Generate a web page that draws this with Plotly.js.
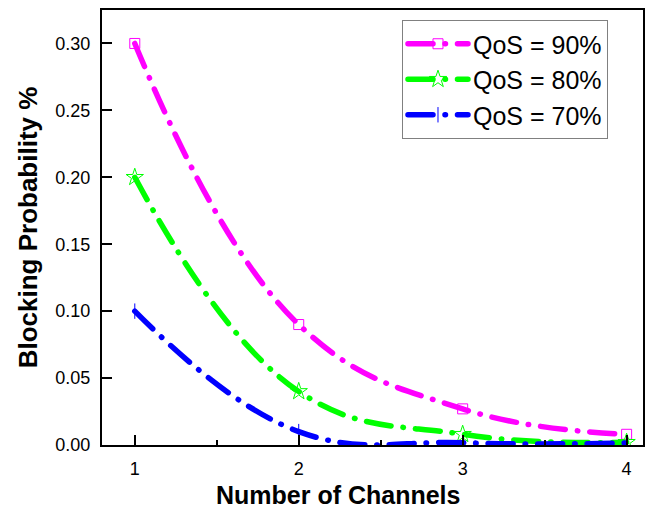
<!DOCTYPE html>
<html>
<head>
<meta charset="utf-8">
<script src="https://cdn.plot.ly/plotly-3.0.1.min.js"></script>
<style>html,body{margin:0;padding:0;background:#fff}#chart{width:649px;height:510px}</style>
</head>
<body>
<div id="chart"></div>
<script>
// Data
const channels = [1, 2, 3, 4];
const qos90 = [0.300, 0.090, 0.027, 0.008];
const qos80 = [0.200, 0.040, 0.008, 0.002];
const qos70 = [0.100, 0.010, 0.0017, 0.0015];
const seriesNames = ['QoS = 90%', 'QoS = 80%', 'QoS = 70%'];
const xTicks = [1, 2, 3, 4];

const FONT = 'Arial, "Liberation Sans", sans-serif';
const DASH = '25px,12px,0.5px,12px';

function tr(y, name, color, symbol, msize) {
  return {
    x: channels, y: y, name: name, type: 'scatter', mode: 'lines+markers',
    line: {color: color, width: 5.5, dash: DASH, shape: 'spline', smoothing: 1.2},
    marker: {symbol: symbol, size: msize, color: color, line: {color: color, width: 1}},
    cliponaxis: true
  };
}

const data = [
  tr(qos90, seriesNames[0], '#ff00ff', 'square-open', 10),
  tr(qos80, seriesNames[1], '#00ff00', 'star-open', 13),
  tr(qos70, seriesNames[2], '#0000ff', 'line-ns-open', 11)
];

const layout = {
  width: 649, height: 510,
  margin: {l: 102, r: 6, t: 10, b: 65},
  paper_bgcolor: '#fff', plot_bgcolor: '#fff',
  font: {family: FONT, color: '#000'},
  showlegend: true,
  legend: {
    x: 0.5545, y: 0.977, xanchor: 'left', yanchor: 'top',
    bgcolor: '#fff', bordercolor: '#808080', borderwidth: 1,
    font: {family: FONT, size: 25, color: '#000'},
    itemwidth: 60, tracegroupgap: 0, entrywidth: 150
  },
  xaxis: {
    range: [0.8, 4.1], tickvals: xTicks, ticktext: xTicks.map(String),
    ticks: 'inside', ticklen: 10, tickwidth: 2, tickcolor: '#000',
    showline: true, linewidth: 2, linecolor: '#000', mirror: true,
    showgrid: false, zeroline: false,
    tickfont: {family: FONT, size: 18, color: '#000'},
    ticklabelstandoff: 6,
    minor: {tickvals: [1.5, 2.5, 3.5], ticks: 'inside', ticklen: 5, tickwidth: 2, tickcolor: '#000', showgrid: false}
  },
  yaxis: {
    range: [0, 0.325], dtick: 0.05, tick0: 0, tickformat: '.2f',
    ticks: 'inside', ticklen: 10, tickwidth: 2, tickcolor: '#000',
    showline: true, linewidth: 2, linecolor: '#000', mirror: true,
    showgrid: false, zeroline: false,
    tickfont: {family: FONT, size: 18, color: '#000'},
    ticklabelstandoff: 6,
    title: {text: '<b>Blocking Probability %</b>', font: {family: FONT, size: 26, color: '#000'}, standoff: 10}
  },
  annotations: [{
    text: '<b>Number of Channels</b>', xref: 'paper', yref: 'paper',
    x: 0.436, y: -0.115, xanchor: 'center', yanchor: 'middle', showarrow: false,
    font: {family: FONT, size: 25, color: '#000'}
  }]
};

Plotly.newPlot('chart', data, layout, {displayModeBar: false, staticPlot: true}).then(function (gd) {
  gd.querySelectorAll('path.js-line').forEach(function (p) {
    p.style.strokeLinecap = 'round';
  });
});
</script>
</body>
</html>
